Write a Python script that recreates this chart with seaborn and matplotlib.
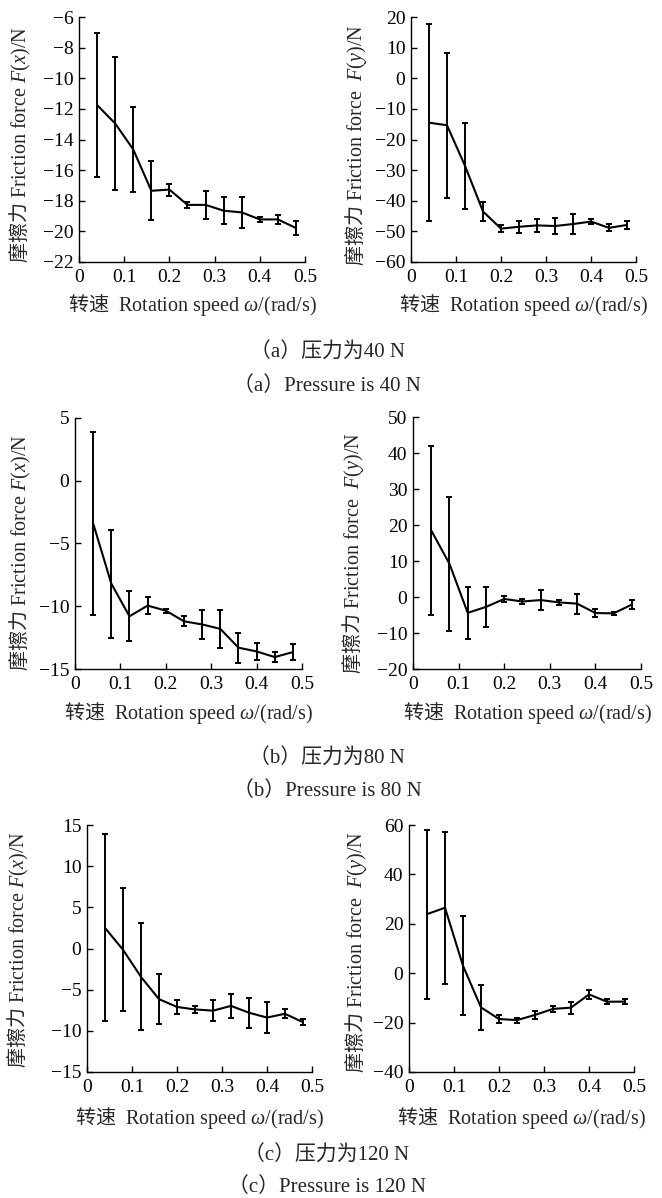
import numpy as np
import pandas as pd
import matplotlib
matplotlib.use("Agg")
import matplotlib.pyplot as plt
import seaborn as sns

# ---------------- data ----------------
speed = [0.04, 0.08, 0.12, 0.16, 0.20, 0.24, 0.28, 0.32, 0.36, 0.40, 0.44, 0.48]
x_ticks = [0, 0.1, 0.2, 0.3, 0.4, 0.5]
x_tick_labels = ["0", "0.1", "0.2", "0.3", "0.4", "0.5"]

a_fx_mean = [-11.75, -12.95, -14.65, -17.35, -17.27, -18.27, -18.27, -18.65, -18.76, -19.22, -19.22, -19.78]
a_fx_err = [4.72, 4.36, 2.75, 1.93, 0.39, 0.2, 0.9, 0.9, 1.0, 0.18, 0.28, 0.47]
a_fy_mean = [-14.5, -15.35, -28.6, -43.5, -49.1, -48.5, -48.05, -48.25, -47.6, -46.8, -48.85, -47.9]
a_fy_err = [32.1, 23.75, 13.95, 3.1, 1.1, 1.9, 2.15, 2.75, 3.4, 0.9, 1.15, 1.2]

b_fx_mean = [-3.4, -8.2, -10.8, -9.95, -10.35, -11.2, -11.45, -11.8, -13.3, -13.6, -14.05, -13.65]
b_fx_err = [7.3, 4.3, 2.0, 0.7, 0.15, 0.4, 1.15, 1.5, 1.2, 0.7, 0.4, 0.66]
b_fy_mean = [18.5, 9.2, -4.4, -2.75, -0.55, -1.25, -0.85, -1.5, -1.85, -4.45, -4.55, -2.1]
b_fy_err = [23.5, 18.6, 7.25, 5.55, 0.95, 0.65, 2.85, 0.6, 2.75, 1.15, 0.35, 1.2]

c_fx_mean = [2.5, -0.15, -3.45, -6.15, -7.1, -7.4, -7.55, -6.97, -7.8, -8.39, -7.93, -8.95]
c_fx_err = [11.35, 7.45, 6.5, 3.05, 0.9, 0.4, 1.25, 1.42, 1.84, 1.86, 0.53, 0.4]
c_fy_mean = [23.9, 26.5, 3.0, -13.85, -18.55, -19.0, -16.9, -14.45, -13.95, -8.6, -11.55, -11.5]
c_fy_err = [34.15, 30.75, 20.05, 9.25, 1.55, 1.0, 1.6, 1.35, 2.45, 1.7, 1.05, 1.1]

a_fx_yticks = [-22, -20, -18, -16, -14, -12, -10, -8, -6]
a_fy_yticks = [-60, -50, -40, -30, -20, -10, 0, 10, 20]
b_fx_yticks = [-15, -10, -5, 0, 5]
b_fy_yticks = [-20, -10, 0, 10, 20, 30, 40, 50]
c_fx_yticks = [-15, -10, -5, 0, 5, 10, 15]
c_fy_yticks = [-40, -20, 0, 20, 40, 60]

ylabel_x = "$\\mathsf{摩擦力}$ Friction force $F(x)$/N"
ylabel_y = "$\\mathsf{摩擦力}$ Friction force  $F(y)$/N"
xlabel_text = "$\\mathsf{转速}$  Rotation speed $\\omega$/(rad/s)"
captions = [
    ("（a）压力为40 N", "（a）Pressure is 40 N"),
    ("（b）压力为80 N", "（b）Pressure is 80 N"),
    ("（c）压力为120 N", "（c）Pressure is 120 N"),
]

# ---------------- style ----------------
sns.set_style("ticks")
fams = ["Liberation Serif", "Noto Sans CJK SC", "DejaVu Sans"]
plt.rcParams["font.family"] = fams
plt.rcParams["mathtext.fontset"] = "custom"
plt.rcParams["mathtext.rm"] = "Liberation Serif"
plt.rcParams["mathtext.it"] = "Liberation Serif:italic"
plt.rcParams["mathtext.bf"] = "Liberation Serif:bold"
plt.rcParams["mathtext.sf"] = "Noto Sans CJK SC"
plt.rcParams["axes.unicode_minus"] = True

W, H = 662, 1198
fig = plt.figure(figsize=(W / 100, H / 100), dpi=100)

# panel layout in pixels: (x0, x1, ytop, ybottom), ylabel center x, ylabel center y, xlabel center y
panels = [
    (a_fx_mean, a_fx_err, a_fx_yticks, ylabel_x, (79, 305, 17, 262), 20, 145, 305),
    (a_fy_mean, a_fy_err, a_fy_yticks, ylabel_y, (411, 636, 17, 262), 356, 145, 305),
    (b_fx_mean, b_fx_err, b_fx_yticks, ylabel_x, (75, 302, 418, 669), 20, 553, 713),
    (b_fy_mean, b_fy_err, b_fy_yticks, ylabel_y, (413, 641, 417, 669), 353, 553, 713),
    (c_fx_mean, c_fx_err, c_fx_yticks, ylabel_x, (87, 312, 825, 1072), 18, 950, 1118),
    (c_fy_mean, c_fy_err, c_fy_yticks, ylabel_y, (409, 634, 825, 1072), 356, 952, 1118),
]

for mean, err, yticks, ylab, (x0, x1, yt, yb), ylx, yly, xly in panels:
    ax = fig.add_axes([x0 / W, 1 - yb / H, (x1 - x0) / W, (yb - yt) / H])
    df = pd.DataFrame({"speed": speed, "force": mean, "err": err})
    ax.errorbar(df["speed"], df["force"], yerr=df["err"], fmt="none",
                ecolor="black", elinewidth=1.4, capsize=2.3, capthick=1.4, zorder=2)
    sns.lineplot(data=df, x="speed", y="force", color="black", linewidth=1.5,
                 ax=ax, zorder=3)
    ax.set_xlim(0, 0.5)
    ax.set_ylim(yticks[0], yticks[-1])
    ax.set_xticks(x_ticks, x_tick_labels)
    ax.set_yticks(yticks)
    ax.tick_params(direction="in", length=4, width=1, labelsize=14, pad=4,
                   colors="black")
    ax.tick_params(axis="x", pad=5)
    sns.despine(ax=ax)
    for s in ("left", "bottom"):
        ax.spines[s].set_linewidth(1.0)
        ax.spines[s].set_color("black")
    ax.set_xlabel(xlabel_text, fontsize=14.5, va="center")
    ax.xaxis.set_label_coords(0.5, -(xly - yb) / (yb - yt))
    ax.set_ylabel(ylab, fontsize=14.5, va="center")
    ax.yaxis.set_label_coords((ylx - x0) / (x1 - x0), (yb - yly) / (yb - yt))

cap_y = [(353, 386), (759, 791), (1156, 1187)]
for (c1, c2), (y1, y2) in zip(captions, cap_y):
    fig.text(327 / W, 1 - y1 / H, c1, ha="center", va="center", fontsize=15)
    fig.text(327 / W, 1 - y2 / H, c2, ha="center", va="center", fontsize=15)

fig.savefig("out.png", dpi=100)
